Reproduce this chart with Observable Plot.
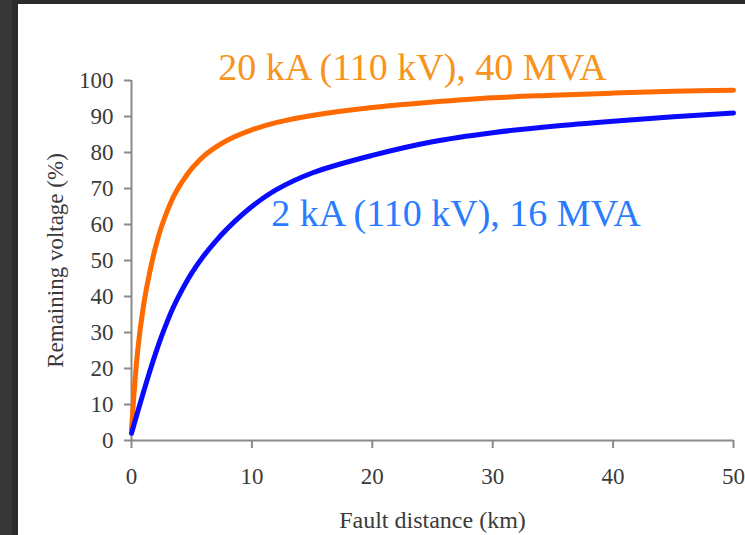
<!DOCTYPE html>
<html>
<head>
<meta charset="utf-8">
<script src="https://cdn.jsdelivr.net/npm/d3@7"></script>
<script src="https://cdn.jsdelivr.net/npm/@observablehq/plot@0.6"></script>
<style>
  html, body { margin: 0; padding: 0; background: #363636; }
  #frame { position: relative; width: 745px; height: 535px; background: #363636; overflow: hidden; }
  #strip { position: absolute; left: 12px; top: 0; width: 6px; height: 535px; background: #2b2b2b; }
  #topstrip { position: absolute; left: 12px; top: 0; width: 733px; height: 4px; background: #2b2b2b; }
  #chart { position: absolute; left: 18px; top: 4px; width: 727px; height: 531px; background: #fff; }
  #chart svg { display: block; }
</style>
</head>
<body>
<div id="frame"><div id="strip"></div><div id="topstrip"></div><div id="chart"></div></div>
<script>
// Fault distance (km)
const distance = [0, 0.5, 1, 1.5, 2, 2.5, 3, 3.5, 4, 4.5, 5, 6, 7, 8, 10, 12, 15, 20, 25, 30, 35, 40, 45, 50];
// Remaining voltage (%) — 20 kA (110 kV), 40 MVA
const v20kA = [3, 24.5, 37.5, 46.5, 53.8, 59.5, 64, 67.8, 70.8, 73.3, 75.5, 79, 81.5, 83.5, 86.3, 88.3, 90.3, 92.5, 94, 95.2, 95.9, 96.5, 97, 97.3];
// Remaining voltage (%) — 2 kA (110 kV), 16 MVA
const v2kA = [2, 7.8, 13.5, 19, 24.2, 29, 33.3, 37.2, 40.6, 43.7, 46.5, 51.3, 55.4, 59, 65, 69.6, 74.3, 79.2, 83, 85.5, 87.3, 88.7, 89.9, 91];

const seriesNames = ["20 kA (110 kV), 40 MVA", "2 kA (110 kV), 16 MVA"];
const labelX = [7.2, 11.6];
const labelY = [103.5, 63];

const xTicks = [0, 10, 20, 30, 40, 50];
const yTicks = [0, 10, 20, 30, 40, 50, 60, 70, 80, 90, 100];
const xLabel = "Fault distance (km)";
const yLabel = "Remaining voltage (%)";

const orangeLine = "#ff6a00";
const blueLine = "#0a0aff";
const orangeText = "#f7941d";
const blueText = "#2a7cff";

const rows20 = distance.map((d, i) => ({d, v: v20kA[i]}));
const rows2 = distance.map((d, i) => ({d, v: v2kA[i]}));
const labels = seriesNames.map((name, i) => ({name, x: labelX[i], y: labelY[i], color: i === 0 ? orangeText : blueText}));

const chart = Plot.plot({
  width: 727,
  height: 531,
  marginLeft: 113,
  marginRight: 12,
  marginTop: 76,
  marginBottom: 95,
  style: {fontFamily: "'Liberation Serif', 'Times New Roman', serif", fontSize: "23px", color: "#3a3a3a", background: "#fff", overflow: "visible"},
  x: {domain: [0, 50]},
  y: {domain: [0, 100]},
  marks: [
    Plot.axisX({ticks: xTicks, tickSize: 8, tickPadding: 19, label: null, stroke: "#8a8a8a", strokeWidth: 2, fill: "#3a3a3a"}),
    Plot.axisY({ticks: yTicks, tickSize: 7, tickPadding: 11, label: null, stroke: "#8a8a8a", strokeWidth: 2, fill: "#3a3a3a"}),
    Plot.ruleY([0], {stroke: "#8a8a8a", strokeWidth: 2}),
    Plot.ruleX([0], {stroke: "#8a8a8a", strokeWidth: 2}),
    Plot.text([xLabel], {frameAnchor: "bottom", dy: 80, lineAnchor: "middle", textAnchor: "middle", fontSize: 24, fill: "#3a3a3a"}),
    Plot.text([yLabel], {frameAnchor: "left", rotate: -90, dx: -76, dy: 0, lineAnchor: "middle", textAnchor: "middle", fontSize: 23, fill: "#3a3a3a"}),
    Plot.line(rows20, {x: "d", y: "v", stroke: orangeLine, strokeWidth: 5, curve: "catmull-rom"}),
    Plot.line(rows2, {x: "d", y: "v", stroke: blueLine, strokeWidth: 5, curve: "catmull-rom"}),
    Plot.text(labels, {x: "x", y: "y", text: "name", fill: "color", textAnchor: "start", lineAnchor: "middle", fontSize: 38})
  ]
});
document.getElementById("chart").appendChild(chart);
</script>
</body>
</html>
